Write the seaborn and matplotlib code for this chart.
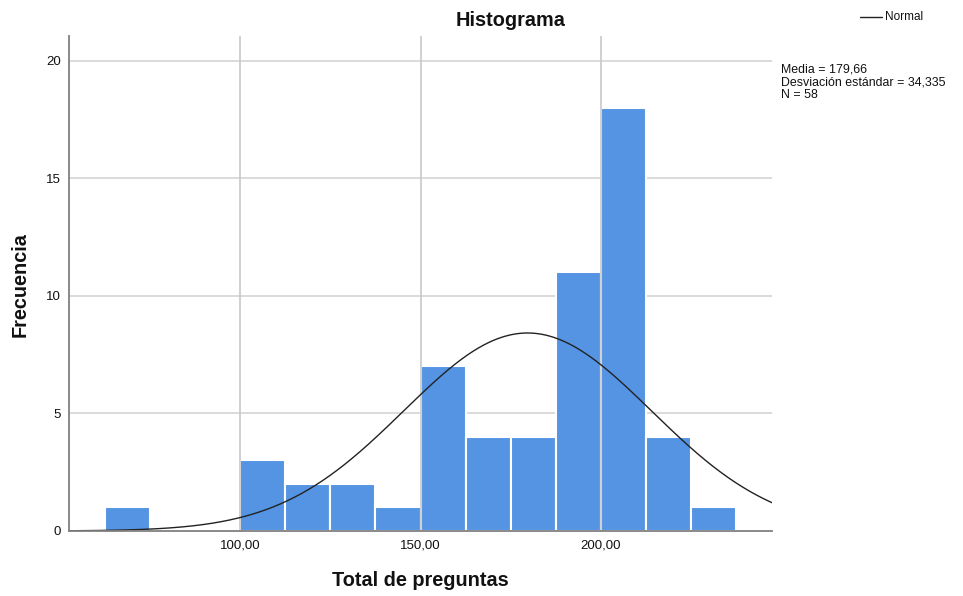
import numpy as np
import pandas as pd
import seaborn as sns
import matplotlib
matplotlib.use("Agg")
import matplotlib.pyplot as plt
from matplotlib.lines import Line2D

# Histogram bins (width 12.5) and counts
bin_edges = [62.5, 75.0, 87.5, 100.0, 112.5, 125.0, 137.5, 150.0, 162.5,
             175.0, 187.5, 200.0, 212.5, 225.0, 237.5]
counts = [1, 0, 0, 3, 2, 2, 1, 7, 4, 4, 11, 18, 4, 1]

# Summary stats shown in the chart
media = 179.66
desv = 34.335
n = 58

x_ticks = [100, 150, 200]
x_tick_labels = ["100,00", "150,00", "200,00"]
y_ticks = [0, 5, 10, 15, 20]

bar_color = "#5494E3"

sns.set_style("white")
plt.rcParams['font.family'] = ['Liberation Sans', 'DejaVu Sans']
plt.rcParams['text.color'] = "#111111"

df = pd.DataFrame({
    "centro": [(a + b) / 2 for a, b in zip(bin_edges[:-1], bin_edges[1:])],
    "frecuencia": counts,
})

fig = plt.figure(figsize=(9.63, 5.96), dpi=100)
ax = fig.add_axes([0.0717, 0.1091, 0.7300, 0.8305])

# horizontal grid behind the bars
for yv in y_ticks[1:]:
    ax.axhline(yv, color="#d4d4d4", linewidth=1.2, zorder=0)

sns.histplot(data=df, x="centro", weights="frecuencia", bins=bin_edges,
             color=bar_color, alpha=1, edgecolor="white", linewidth=1.5,
             zorder=2, ax=ax)

# vertical grid shows over the white bar edges
for xv in x_ticks:
    ax.axvline(xv, color="#c8c8c8", linewidth=1.2, zorder=3)

# Normal curve scaled to counts
xlim = (52.6, 247.4)
xs = np.linspace(xlim[0], xlim[1], 400)
bw = bin_edges[1] - bin_edges[0]
ys = n * bw / (desv * np.sqrt(2 * np.pi)) * np.exp(-0.5 * ((xs - media) / desv) ** 2)
sns.lineplot(x=xs, y=ys, color="#222222", linewidth=1.0, zorder=4, ax=ax)

ax.set_xlim(*xlim)
ax.set_ylim(0, 21.06)
ax.set_xticks(x_ticks)
ax.set_xticklabels(x_tick_labels)
ax.set_yticks(y_ticks)
ax.tick_params(axis="both", length=0, labelsize=9.5, colors="#111111", pad=6)

for s in ["top", "right"]:
    ax.spines[s].set_visible(False)
for s in ["left", "bottom"]:
    ax.spines[s].set_color("#808080")
    ax.spines[s].set_linewidth(1.3)
    ax.spines[s].set_zorder(5)

ax.set_xlabel("")
ax.set_ylabel("")
fig.text(420 / 963, 1 - 581 / 596, "Total de preguntas", ha="center", va="center",
         fontsize=14.3, fontweight="bold")
fig.text(20 / 963, 1 - 285 / 596, "Frecuencia", ha="center", va="center",
         rotation=90, fontsize=14.3, fontweight="bold")
fig.text(511 / 963, 1 - 20 / 596, "Histograma", ha="center", va="center",
         fontsize=14.3, fontweight="bold")

# legend-like line and stats
fig.add_artist(Line2D([860 / 963, 882 / 963], [1 - 17 / 596, 1 - 17 / 596],
                      color="#222222", linewidth=1.0))
fig.text(885 / 963, 1 - 17 / 596, "Normal", ha="left", va="center", fontsize=8.5)
stats = "Media = {}\nDesviación estándar = {}\nN = {}".format(
    f"{media:.2f}".replace(".", ","), f"{desv:.3f}".replace(".", ","), n)
fig.text(781 / 963, 1 - 63 / 596, stats, ha="left", va="top", fontsize=8.9,
         linespacing=1.12)

fig.savefig("out.png", dpi=100)
